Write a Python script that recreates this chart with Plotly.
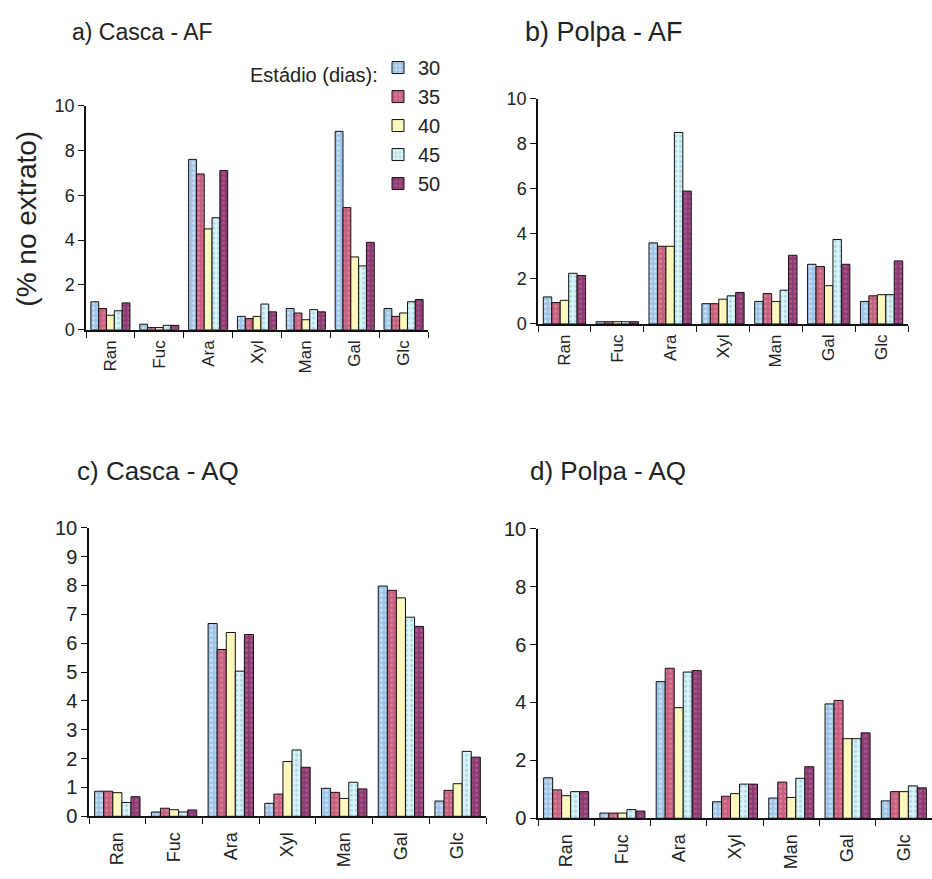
import plotly.graph_objects as go

W, H = 932, 879

categories = ["Ran", "Fuc", "Ara", "Xyl", "Man", "Gal", "Glc"]
stages = ["30", "35", "40", "45", "50"]

# values per stage (rows = 30,35,40,45,50 days), columns = categories
casca_af = [
    [1.25, 0.25, 7.6, 0.6, 0.95, 8.85, 0.95],
    [0.95, 0.1, 6.95, 0.5, 0.75, 5.45, 0.6],
    [0.65, 0.1, 4.5, 0.6, 0.45, 3.25, 0.75],
    [0.85, 0.2, 5.0, 1.15, 0.9, 2.85, 1.25],
    [1.2, 0.2, 7.1, 0.8, 0.8, 3.9, 1.35],
]
polpa_af = [
    [1.2, 0.1, 3.6, 0.9, 1.0, 2.65, 1.0],
    [0.95, 0.1, 3.45, 0.9, 1.35, 2.55, 1.25],
    [1.05, 0.1, 3.45, 1.1, 1.0, 1.7, 1.3],
    [2.25, 0.1, 8.5, 1.25, 1.5, 3.75, 1.3],
    [2.15, 0.1, 5.9, 1.4, 3.05, 2.65, 2.8],
]
casca_aq = [
    [0.87, 0.15, 6.68, 0.45, 0.97, 7.98, 0.53],
    [0.87, 0.28, 5.78, 0.77, 0.83, 7.83, 0.9],
    [0.82, 0.23, 6.37, 1.9, 0.62, 7.57, 1.13],
    [0.48, 0.15, 5.03, 2.3, 1.18, 6.9, 2.25],
    [0.68, 0.22, 6.3, 1.7, 0.95, 6.58, 2.05],
]
polpa_aq = [
    [1.4, 0.18, 4.72, 0.57, 0.7, 3.95, 0.6],
    [0.98, 0.18, 5.18, 0.76, 1.25, 4.07, 0.92],
    [0.78, 0.18, 3.82, 0.85, 0.72, 2.75, 0.92],
    [0.92, 0.3, 5.05, 1.18, 1.38, 2.75, 1.12],
    [0.92, 0.25, 5.1, 1.18, 1.78, 2.95, 1.05],
]

panel_titles = ["a) Casca - AF", "b) Polpa - AF", "c) Casca - AQ", "d) Polpa - AQ"]
panels = [casca_af, polpa_af, casca_aq, polpa_aq]

colors = ["#9ec4e8", "#c6607f", "#fdf6bd", "#d9f4f7", "#8e3b73"]
pat_shapes = [".", ".", "", ".", "."]
pat_fg = ["#ffffff", "#e8a0b8", "#ffffff", "#7fb8d8", "#c07aa8"]

FONT = "Liberation Sans, Arial"

def px_x(p):
    return p / W

def px_y(p):
    return 1 - p / H

# panel geometry (pixels): x0, x1, y_of_0, y_of_10
geom = [
    (86, 428, 327, 97),
    (538, 908, 321, 90),
    (89, 486, 826, 530),
    (538, 932, 828, 531),
]
tick_font = [18, 18, 20, 20]
cat_font = [17, 17, 18, 18]
cat_standoff = [2, 2, 7, 7]
dticks = [2, 2, 1, 2]
title_pos = [(70, 22, 23), (523, 22, 27), (75, 472, 26), (528, 472, 26)]

fig = go.Figure()
layout = {}
for i, data in enumerate(panels):
    n = "" if i == 0 else str(i + 1)
    xa, ya = "x" + n, "y" + n
    for s in range(5):
        fig.add_trace(go.Bar(
            x=categories, y=data[s], name=stages[s],
            xaxis=xa, yaxis=ya,
            showlegend=(i == 0),
            marker=dict(
                color=colors[s],
                line=dict(color="#111111", width=1),
                pattern=dict(shape=pat_shapes[s], fgcolor=pat_fg[s],
                             fillmode="overlay", size=5, solidity=0.3),
            ),
        ))
    x0, x1, yb, yt = geom[i]
    layout["xaxis" + n] = dict(
        domain=[px_x(x0), px_x(x1)], anchor=ya, type="category",
        showline=True, linecolor="#111111", linewidth=1.5,
        ticks="outside", tickson="boundaries", ticklen=6, tickcolor="#111111",
        ticklabelstandoff=cat_standoff[i],
        tickangle=-90, tickfont=dict(size=cat_font[i], color="#222222", family=FONT),
        showgrid=False, zeroline=False, fixedrange=True,
    )
    layout["yaxis" + n] = dict(
        domain=[px_y(yb), px_y(yt)], anchor=xa, range=[0, 10], dtick=dticks[i],
        showline=True, linecolor="#111111", linewidth=1.5,
        ticks="outside", ticklen=6, tickcolor="#111111",
        tickfont=dict(size=tick_font[i], color="#222222", family=FONT),
        showgrid=False, zeroline=False, fixedrange=True,
    )

annotations = []
for t, (tx, ty, fs) in zip(panel_titles, title_pos):
    annotations.append(dict(
        text=t, x=px_x(tx), y=px_y(ty), xref="paper", yref="paper",
        xanchor="left", yanchor="middle", showarrow=False,
        font=dict(size=fs, color="#222222", family=FONT),
    ))
annotations.append(dict(
    text="(% no extrato)", x=px_x(27), y=px_y(213), xref="paper", yref="paper",
    xanchor="center", yanchor="middle", showarrow=False, textangle=-90,
    font=dict(size=28, color="#222222", family=FONT),
))
annotations.append(dict(
    text="Estádio (dias):", x=px_x(380), y=px_y(66), xref="paper", yref="paper",
    xanchor="right", yanchor="middle", showarrow=False,
    font=dict(size=20, color="#222222", family=FONT),
))

fig.update_layout(
    width=W, height=H,
    margin=dict(l=0, r=0, t=0, b=0),
    paper_bgcolor="white", plot_bgcolor="white",
    barmode="group", bargap=0.2, bargroupgap=0,
    showlegend=True,
    legend=dict(x=px_x(378), y=px_y(38), xanchor="left", yanchor="top",
                bgcolor="rgba(0,0,0,0)", itemwidth=30,
                font=dict(size=20, color="#222222", family=FONT)),
    annotations=annotations,
    **layout,
)

fig.write_html("out.html")
